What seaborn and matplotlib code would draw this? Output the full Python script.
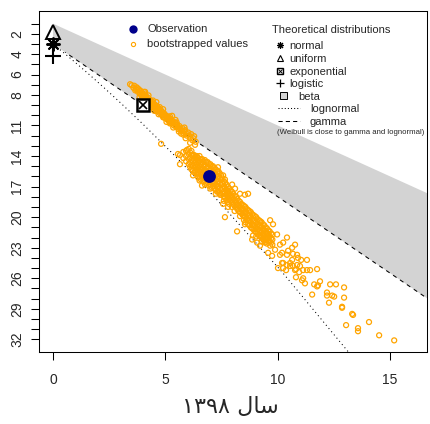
import numpy as np
import matplotlib
matplotlib.use("Agg")
import matplotlib.pyplot as plt
import seaborn as sns
from matplotlib.lines import Line2D
from matplotlib.patches import Rectangle

# observation (square of skewness, kurtosis)
obs_skew2 = [6.95]
obs_kurt = [15.95]

# theoretical distributions
theo_names = ["normal", "uniform", "exponential", "logistic"]
theo_skew2 = [0, 0, 4, 0]
theo_kurt = [3, 1.8, 9, 4.2]

# axis ticks
x_ticks = [0, 5, 10, 15]
kurt_ticks = list(range(1, 33))
kurt_shown = [2, 4, 6, 8, 11, 14, 17, 20, 23, 26, 29, 32]

# bootstrapped values
boot_upper = [
    (3.43, 6.95), (3.50, 7.05), (3.58, 7.30), (3.62, 7.10), (3.70, 7.45), (3.72, 7.25), (3.78, 7.70),
    (3.82, 7.45), (3.88, 7.90), (3.90, 7.60), (3.95, 8.10), (3.98, 7.80), (4.05, 8.25),
    (4.08, 7.95), (4.12, 8.45), (4.15, 8.15), (4.20, 8.60), (4.24, 8.30), (4.28, 8.80),
    (4.32, 8.50), (4.36, 8.95), (4.40, 8.65), (4.45, 9.10), (4.48, 8.85), (4.52, 9.30),
    (4.56, 9.00), (4.60, 9.45), (4.64, 9.15), (4.68, 9.60), (4.72, 9.35), (4.76, 9.80),
    (4.80, 9.50), (4.85, 9.95), (4.88, 9.70), (4.92, 10.15), (4.96, 9.85), (5.00, 10.30),
    (5.05, 10.05), (5.10, 10.45), (5.14, 10.20), (5.18, 10.65), (5.22, 10.35), (5.28, 10.80),
    (5.32, 10.55), (5.38, 11.00), (5.42, 10.70), (5.48, 11.15), (5.52, 10.90), (5.58, 11.35),
    (5.62, 11.05), (5.70, 11.55), (5.75, 11.25), (5.82, 11.75), (5.88, 11.45), (5.95, 12.00),
    (6.02, 11.70), (6.10, 12.20), (6.20, 12.45), (6.28, 12.05), (6.35, 12.60), (4.10, 7.70),
    (4.60, 8.70), (5.30, 10.05), (5.60, 11.60), (3.85, 8.20), (4.50, 9.55), (5.05, 10.65),
    (5.90, 12.25), (6.15, 11.85), (3.95, 8.45), (4.25, 8.05), (4.70, 9.90), (4.90, 9.40),
    (5.20, 10.80), (5.45, 10.45), (5.70, 11.80), (5.85, 11.20), (4.40, 9.20), (4.05, 7.70),
    (3.66, 7.55), (3.76, 7.35), (3.86, 7.75), (3.93, 7.95), (4.02, 8.00), (4.12, 8.15),
    (4.18, 8.40), (4.26, 8.55), (4.34, 8.70), (4.42, 8.90), (4.50, 9.00), (4.58, 9.25),
    (4.66, 9.40), (4.74, 9.55), (4.82, 9.70), (4.90, 9.90), (4.98, 10.05), (5.06, 10.25),
    (5.16, 10.40), (5.24, 10.60), (5.34, 10.75), (5.44, 10.95), (5.54, 11.10), (5.64, 11.30),
    (5.74, 11.50), (5.84, 11.55), (5.98, 11.85), (6.06, 12.00), (6.24, 12.25),
    (4.00, 8.40), (4.30, 8.90), (4.60, 9.60), (4.90, 10.20), (5.20, 10.10), (5.50, 10.70),
    (5.80, 11.90), (4.45, 8.55), (4.75, 9.20), (5.35, 11.20),
]

boot_lower = [
    (4.81, 12.8), (5.56, 13.8), (5.65, 13.9), (5.65, 14.8), (5.96, 13.4), (6.10, 12.7), (6.32, 12.9),
    (5.80, 13.6), (5.80, 14.2), (5.92, 13.5), (5.92, 14.0), (5.92, 14.5),
    (6.04, 13.3), (6.04, 13.8), (6.04, 14.3), (6.04, 14.8),
    (6.16, 13.5), (6.16, 13.9), (6.16, 14.4), (6.16, 14.9), (6.16, 15.3),
    (6.28, 13.9), (6.28, 14.2), (6.28, 14.7), (6.28, 15.2), (6.28, 15.6),
    (6.40, 14.0), (6.40, 14.3), (6.40, 14.8), (6.40, 15.3), (6.40, 15.8),
    (6.52, 14.0), (6.52, 14.5), (6.52, 15.0), (6.52, 15.5), (6.52, 16.0), (6.52, 16.4),
    (6.64, 14.3), (6.64, 14.7), (6.64, 15.2), (6.64, 15.7), (6.64, 16.2),
    (6.76, 14.4), (6.76, 14.9), (6.76, 15.4), (6.76, 15.9), (6.76, 16.4), (6.76, 16.8),
    (6.88, 14.6), (6.88, 15.1), (6.88, 15.6), (6.88, 16.1), (6.88, 16.6),
    (7.00, 14.8), (7.00, 15.3), (7.00, 15.8), (7.00, 16.3), (7.00, 16.8), (7.00, 17.2),
    (7.12, 15.0), (7.12, 15.5), (7.12, 16.0), (7.12, 16.5), (7.12, 17.0),
    (7.24, 15.3), (7.24, 15.8), (7.24, 16.3), (7.24, 16.8), (7.24, 17.3), (7.24, 17.7),
    (7.36, 15.5), (7.36, 16.0), (7.36, 16.5), (7.36, 17.0), (7.36, 17.5),
    (7.48, 15.9), (7.48, 16.3), (7.48, 16.8), (7.48, 17.3), (7.48, 17.8),
    (7.60, 16.5), (7.60, 17.0), (7.60, 17.5), (7.60, 18.0), (7.60, 18.4),
    (7.72, 16.8), (7.72, 17.3), (7.72, 17.8), (7.72, 18.3),
    (7.84, 17.2), (7.84, 17.7), (7.84, 18.2), (7.84, 18.7),
    (7.96, 17.5), (7.96, 18.0), (7.96, 18.5), (7.96, 19.0),
    (8.08, 17.9), (8.08, 18.4), (8.08, 18.9), (8.08, 19.4),
    (8.20, 18.2), (8.20, 18.7), (8.20, 19.2),
    (8.32, 18.5), (8.32, 19.0), (8.32, 19.5), (8.32, 19.9),
    (8.44, 18.8), (8.44, 19.3), (8.44, 19.8),
    (8.56, 19.0), (8.56, 19.5), (8.56, 20.0), (8.56, 20.5),
    (8.68, 19.3), (8.68, 19.8), (8.68, 20.3), (8.68, 20.7),
    (8.80, 19.5), (8.80, 20.0), (8.80, 20.5), (8.80, 21.0),
    (8.92, 19.8), (8.92, 20.3), (8.92, 20.8), (8.92, 21.2),
    (9.04, 20.0), (9.04, 20.5), (9.04, 21.0), (9.04, 21.5), (9.04, 21.9),
    (9.16, 20.3), (9.16, 20.8), (9.16, 21.3), (9.16, 21.8),
    (9.28, 20.5), (9.28, 21.0), (9.28, 21.5), (9.28, 22.0), (9.28, 22.4),
    (9.40, 20.8), (9.40, 21.3), (9.40, 21.8), (9.40, 22.3),
    (9.52, 21.1), (9.52, 21.6), (9.52, 22.1), (9.52, 22.6),
    (9.64, 21.4), (9.64, 21.9), (9.64, 22.4),
    (9.76, 21.7), (9.76, 22.2), (9.76, 22.7),
    (6.10, 13.65), (6.10, 14.15), (6.10, 14.65), (6.10, 15.05),
    (6.22, 13.9), (6.22, 14.45), (6.22, 14.95), (6.22, 15.4),
    (6.34, 14.05), (6.34, 14.55), (6.34, 15.05), (6.34, 15.5),
    (6.46, 14.2), (6.46, 14.65), (6.46, 15.15), (6.46, 15.65), (6.46, 16.1),
    (6.58, 14.3), (6.58, 14.8), (6.58, 15.3), (6.58, 15.8), (6.58, 16.3),
    (6.70, 14.5), (6.70, 15.0), (6.70, 15.5), (6.70, 16.0), (6.70, 16.5),
    (6.82, 14.6), (6.82, 15.2), (6.82, 15.7), (6.82, 16.2), (6.82, 16.7),
    (6.94, 14.8), (6.94, 15.4), (6.94, 16.9), (6.94, 16.4),
    (7.06, 15.0), (7.06, 15.6), (7.06, 16.1), (7.06, 16.6), (7.06, 17.1),
    (7.18, 15.2), (7.18, 15.7), (7.18, 16.2), (7.18, 16.7), (7.18, 17.2),
    (7.30, 15.5), (7.30, 16.0), (7.30, 16.5), (7.30, 17.0), (7.30, 17.5),
    (7.42, 15.7), (7.42, 16.2), (7.42, 16.7), (7.42, 17.2), (7.42, 17.6),
    (7.54, 16.2), (7.54, 16.7), (7.54, 17.2), (7.54, 17.7),
    (7.66, 16.6), (7.66, 17.1), (7.66, 17.6), (7.66, 18.1),
    (7.78, 17.0), (7.78, 17.5), (7.78, 18.0), (7.78, 18.5),
    (7.90, 17.4), (7.90, 17.9), (7.90, 18.4),
    (8.02, 17.7), (8.02, 18.2), (8.02, 18.7),
    (8.14, 18.0), (8.14, 18.5), (8.14, 19.0),
    (8.26, 18.4), (8.26, 18.9), (8.26, 19.4),
    (8.38, 18.7), (8.38, 19.2), (8.38, 19.6),
    (8.50, 18.9), (8.50, 19.4), (8.50, 19.9), (8.50, 20.3),
    (8.62, 19.2), (8.62, 19.7), (8.62, 20.2),
    (8.74, 19.4), (8.74, 19.9), (8.74, 20.4), (8.74, 20.8),
    (8.86, 19.7), (8.86, 20.2), (8.86, 20.7), (8.86, 21.1),
    (8.98, 19.9), (8.98, 20.4), (8.98, 20.9), (8.98, 21.4),
    (9.10, 20.2), (9.10, 20.7), (9.10, 21.2), (9.10, 21.6),
    (9.22, 20.4), (9.22, 20.9), (9.22, 21.4), (9.22, 21.9),
    (9.34, 20.7), (9.34, 21.2), (9.34, 21.7), (9.34, 22.1),
    (9.46, 21.0), (9.46, 21.5), (9.46, 22.0), (9.46, 22.4),
    (9.58, 21.3), (9.58, 21.8), (9.58, 22.3),
    (9.70, 21.6), (9.70, 22.1), (9.70, 22.5),
]

boot_tail = [
    (7.34, 15.1), (7.57, 15.9), (7.65, 16.3), (7.97, 16.8), (8.10, 17.2), (8.32, 17.7),
    (8.54, 17.8), (8.68, 17.7), (6.23, 15.9), (6.63, 16.9), (7.43, 17.8), (7.57, 18.7),
    (7.79, 19.0), (8.19, 18.8), (8.41, 19.2), (7.65, 20.0), (8.19, 21.4), (8.54, 20.7),
    (9.79, 20.7), (9.66, 20.3), (9.97, 21.7), (10.41, 22.0), (10.24, 22.5), (10.10, 22.7),
    (9.88, 23.2), (9.66, 22.8), (9.43, 22.5), (9.21, 22.8), (9.08, 22.5), (10.19, 23.5),
    (10.46, 23.3), (10.64, 23.0), (10.77, 22.7), (10.86, 23.7), (10.24, 24.5), (10.41, 24.7),
    (10.55, 24.8), (10.77, 25.2), (10.01, 25.0), (9.75, 23.8), (9.57, 23.5), (8.90, 21.8),
    (8.86, 22.2), (9.35, 22.2),
    (12.33, 26.6), (12.59, 26.6), (12.95, 26.9), (11.53, 27.6), (12.19, 27.4), (12.19, 27.7),
    (12.42, 27.7), (12.51, 27.8), (12.95, 27.9), (12.28, 28.4), (12.86, 28.8), (12.86, 28.9),
    (13.31, 29.5), (13.35, 29.6), (14.06, 30.3), (13.04, 30.6), (13.57, 30.9), (13.57, 31.2),
    (14.51, 31.6), (15.18, 32.1),
    (11.30, 24.2), (11.75, 25.1), (11.88, 26.3), (11.62, 26.6), (11.75, 26.8), (11.79, 26.7),
    (11.21, 26.5), (11.13, 26.0), (11.08, 26.2), (10.81, 25.9), (10.95, 25.4), (11.13, 25.2),
    (11.30, 25.2), (11.44, 25.2), (10.24, 25.0), (10.37, 25.2), (10.19, 24.5), (10.55, 24.5),
    (10.68, 24.8), (10.86, 24.7), (10.64, 24.2), (10.90, 24.0), (11.04, 24.2), (10.10, 23.7),
    (10.41, 23.7), (10.68, 23.6), (10.81, 25.1), (10.99, 24.8),
]

# x label: "سال ۱۳۹۸" written in visual order with arabic presentation forms
x_label = "\u06f1\u06f3\u06f9\u06f8 \ufedd\ufe8e\ufeb3"

sns.set_theme(style="white")
plt.rcParams["font.family"] = ["Liberation Sans", "DejaVu Sans"]

W, H = 430, 424
fig = plt.figure(figsize=(W / 100, H / 100), dpi=100)
ax = fig.add_axes([38.6 / W, 1 - 352 / H, (427 - 38.6) / W, (352 - 11) / H])


def fx(px):
    return px / W


def fy(py):
    return 1 - py / H


# beta region between upper limit and gamma line
s = np.linspace(0, 20, 200)
ax.fill_between(s, s + 1, 3 + 1.5 * s, color="lightgrey", lw=0, zorder=1)

# gamma and lognormal lines (same parametrisation as descdist)
shape = np.exp(np.arange(-2, 2.01, 0.1))
ax.plot(4 / shape, 3 + 6 / shape, color="black", lw=0.75, ls=(0, (4, 4)), zorder=2)
es2 = np.exp(shape ** 2)
ax.plot((es2 + 2) ** 2 * (es2 - 1), es2 ** 4 + 2 * es2 ** 3 + 3 * es2 ** 2 - 3,
        color="black", lw=0.75, ls=(0, (1, 3)), zorder=2)

# bootstrapped values
boot = boot_upper + boot_lower + boot_tail
sns.scatterplot(x=[p[0] for p in boot], y=[p[1] for p in boot], ax=ax, marker="o", s=13,
                color="orange", facecolors="none", edgecolor="orange", linewidth=0.9, zorder=3)

# theoretical points
ax.plot(theo_skew2[0], theo_kurt[0], marker=(8, 2, 0), ms=10, mew=1.4, color="black", zorder=4)
ax.plot(theo_skew2[1], theo_kurt[1], marker="^", ms=10, mew=1.4, mfc="none", mec="black", zorder=4)
ax.plot(theo_skew2[2], theo_kurt[2], marker="s", ms=8, mew=1.8, mfc="white", mec="black", zorder=4)
ax.plot(theo_skew2[2], theo_kurt[2], marker="x", ms=6, mew=1.2, color="black", zorder=4)
ax.plot(theo_skew2[3], theo_kurt[3], marker="+", ms=12, mew=1.5, color="black", zorder=4)

# observation
ax.scatter(obs_skew2, obs_kurt, s=85, color="darkblue", zorder=5, lw=0)

ax.set_xlim(-0.64, 16.64)
ax.set_ylim(33.24, -0.24)
ax.set_xticks(x_ticks)
ax.set_xticklabels([str(v) for v in x_ticks], fontsize=10)
ax.set_yticks(kurt_ticks)
ax.set_yticklabels([str(v) if v in kurt_shown else "" for v in kurt_ticks],
                   fontsize=10, rotation=90, va="center")
ax.tick_params(axis="x", direction="out", length=5.8, width=0.75, color="black", pad=9.5, bottom=True)
ax.tick_params(axis="y", direction="out", length=5.8, width=0.75, color="black", pad=4.5, left=True)
for sp in ax.spines.values():
    sp.set_color("black")
    sp.set_linewidth(0.75)
ax.set_xlabel("")
ax.set_ylabel("")
fig.text(fx(230), fy(407), x_label, fontsize=16, ha="center", va="center", family=["DejaVu Sans"])

# legend: observation / bootstrap
fs = 8
fig.add_artist(Line2D([fx(133)], [fy(29)], marker="o", ms=6, color="darkblue", mew=0))
fig.text(fx(147), fy(29), "Observation", fontsize=fs, va="center")
fig.add_artist(Line2D([fx(133)], [fy(44)], marker="o", ms=3, mfc="none", mec="orange", mew=0.8))
fig.text(fx(147), fy(44), "bootstrapped values", fontsize=fs, va="center")

# legend: theoretical distributions
fig.text(fx(272), fy(30), "Theoretical distributions", fontsize=fs, va="center")
fig.add_artist(Line2D([fx(280)], [fy(45)], marker=(8, 2, 0), ms=5, mew=0.8, color="black"))
fig.add_artist(Line2D([fx(280)], [fy(58)], marker="^", ms=5, mew=0.8, mfc="none", mec="black"))
fig.add_artist(Line2D([fx(280)], [fy(71)], marker="s", ms=4, mew=1.0, mfc="white", mec="black"))
fig.add_artist(Line2D([fx(280)], [fy(71)], marker="x", ms=3, mew=0.7, color="black"))
fig.add_artist(Line2D([fx(280)], [fy(83)], marker="+", ms=6, mew=0.9, color="black"))
for name, py in zip(theo_names, [45, 58, 71, 83]):
    fig.text(fx(289), fy(py + 1), name, fontsize=fs, va="center")
fig.add_artist(Rectangle((fx(280), fy(99)), 7 / W, 7 / H, facecolor="lightgrey",
                         edgecolor="black", lw=0.7, transform=fig.transFigure))
fig.text(fx(298), fy(97), "beta", fontsize=fs, va="center")
fig.add_artist(Line2D([fx(278), fx(300)], [fy(108), fy(108)], color="black", lw=0.75, ls=(0, (1, 2))))
fig.text(fx(310), fy(109), "lognormal", fontsize=fs, va="center")
fig.add_artist(Line2D([fx(278), fx(300)], [fy(121), fy(121)], color="black", lw=0.75, ls=(0, (4, 3))))
fig.text(fx(310), fy(122), "gamma", fontsize=fs, va="center")
ax.text(fx(277), fy(133), "(Weibull is close to gamma and lognormal)", fontsize=5.6,
        va="center", transform=fig.transFigure, clip_on=True)

fig.savefig("out.png", dpi=100)
